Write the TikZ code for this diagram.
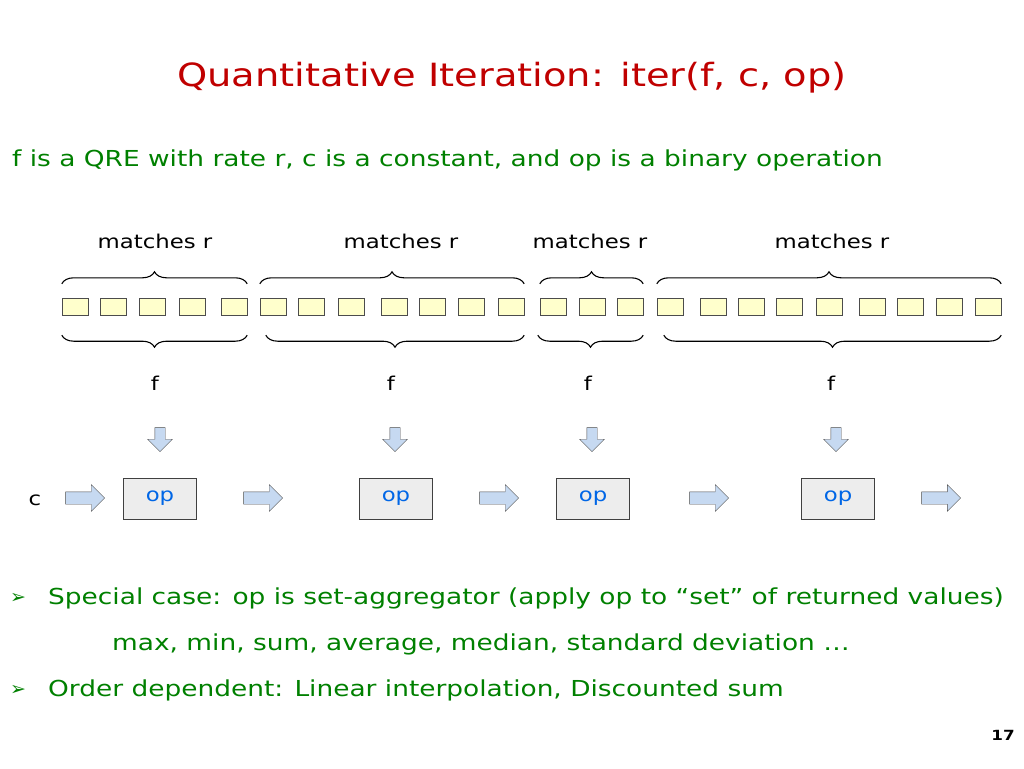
\documentclass[tikz,border=0pt]{standalone}
\usepackage{fontspec}
\setmainfont{DejaVu Sans}[FakeStretch=1.2]
\newfontfamily\symfont{DejaVu Sans}
\usetikzlibrary{arrows.meta,shapes.arrows,decorations.pathreplacing}
\definecolor{titlered}{RGB}{192,0,0}
\definecolor{textgreen}{RGB}{0,128,0}
\definecolor{cellfill}{RGB}{255,255,204}
\definecolor{arrowfill}{RGB}{198,217,241}
\definecolor{opblue}{RGB}{0,102,230}

\begin{document}
\begin{tikzpicture}[x=1pt,y=-1pt,
    cell/.style={draw=black!70,fill=cellfill,minimum width=26pt,minimum height=17pt,inner sep=0pt},
    opbox/.style={draw=black!75,fill=black!7,minimum width=73pt,minimum height=41pt,inner sep=0pt,text=opblue,font=\fontsize{19}{23}\selectfont},
    fatarrow/.style={single arrow,draw=black!70,fill=arrowfill,minimum height=39pt,minimum width=24pt,inner sep=6pt},
    downarrow/.style={fatarrow,shape border rotate=270,minimum height=24pt,minimum width=22pt,inner sep=5pt},
    grp/.style={decorate,decoration={brace,amplitude=12pt},line width=1.1pt},
    lbl/.style={font=\fontsize{19}{23}\selectfont}]
  \useasboundingbox (0,0) rectangle (1024,768);

  \node[text=titlered,font=\fontsize{32}{38}\selectfont] (title) at (512,78) {Quantitative Iteration: iter(f, c, op)};
  \node[text=textgreen,font=\fontsize{22}{26}\selectfont,anchor=west,inner sep=0pt] (intro) at (12,160)
    {f is a QRE with rate r, c is a constant, and op is a binary operation};

  % the input word
  \foreach \x [count=\i] in {75,113,152,192,234,273,311,351,394,432,471,511,553,592,630,670,713,751,789,829,872,910,949,988}
    \node[cell] (b\i) at (\x,306.5) {};

  % groups above and below
  \foreach \s/\e/\m in {1/5/155,6/12/401,13/15/590,16/24/832} {
    \draw[grp] ([yshift=14pt]b\s.north west) -- ([yshift=14pt]b\e.north east);
    \node[lbl] at (\m,241) {matches r};
  }
  \draw[grp] ([yshift=-20pt]b5.south east) -- ([yshift=-20pt]b1.south west);
  \draw[grp] ([yshift=-20pt]b12.south east) -- ([yshift=-20pt,xshift=6pt]b6.south west);
  \draw[grp] ([yshift=-20pt]b15.south east) -- ([yshift=-20pt,xshift=-2pt]b13.south west);
  \draw[grp] ([yshift=-20pt]b24.south east) -- ([yshift=-20pt,xshift=7pt]b16.south west);

  \foreach \x/\d/\o/\n in {155/160/160/1,391/395/396/2,588/592/593/3,831/836/838/4} {
    \node[lbl] (f\n) at (\x,383) {f};
    \node[downarrow] (d\n) at (\d,437) {};
    \node[opbox] (op\n) at (\o,498.5) {op};
  }

  % the chain
  \node[lbl] (c) at (35,500) {c};
  \foreach \x [count=\i] in {82,260,496,706,938}
    \node[fatarrow] (r\i) at (\x,498) {};

  % remarks
  \begin{scope}[every node/.style={text=textgreen,font=\fontsize{22}{26}\selectfont,anchor=west,inner sep=0pt}]
    \node (k1) at (10,598) {{\symfont\fontsize{19}{22}\selectfont ➢}};
    \node (t1) at (48,598) {Special case: op is set-aggregator (apply op to “set” of returned values)};
    \node (t2) at (112,644) {max, min, sum, average, median, standard deviation …};
    \node (k2) at (10,690) {{\symfont\fontsize{19}{22}\selectfont ➢}};
    \node (t3) at (48,690) {Order dependent: Linear interpolation, Discounted sum};
  \end{scope}
  \node[font=\rmfamily\bfseries\fontsize{14}{16}\selectfont] (page) at (1003,735) {17};
\end{tikzpicture}
\end{document}
